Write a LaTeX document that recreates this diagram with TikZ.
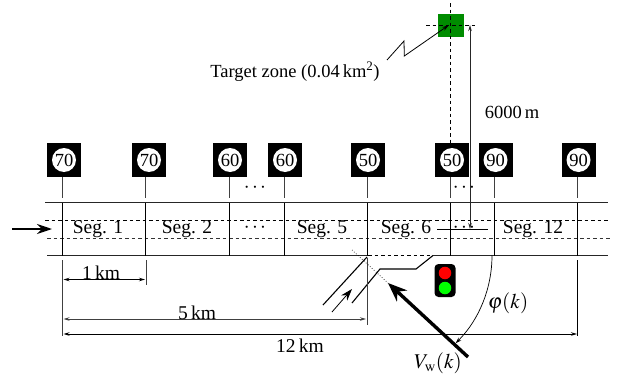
\documentclass[tikz,border=0pt]{standalone}
\usepackage{mathptmx}
\usepackage{fontspec}
\setmainfont{Liberation Serif}
\usetikzlibrary{arrows.meta}
\DeclareMathSizes{21}{21}{14.5}{11}
\DeclareMathSizes{18.5}{18.5}{13}{10}
\definecolor{zonegreen}{RGB}{0,140,0}
\tikzset{
	dimline/.style={line width=0.9pt,{Stealth[length=6pt,width=3.5pt]}-{Stealth[length=6pt,width=3.5pt]}},
	tickline/.style={line width=0.9pt,black!75},
	roadline/.style={line width=1.4pt,black!85},
	laneline/.style={line width=0.85pt,dash pattern=on 3.5pt off 3pt},
	signbox/.style={fill=black,minimum width=34pt,minimum height=34pt,inner sep=0pt},
	signdisc/.style={circle,fill=white,minimum size=24pt,inner sep=0pt,font=\fontsize{18.5}{19}\selectfont},
	textlabel/.style={inner sep=0pt,font=\fontsize{18.5}{20}\selectfont},
	seglabel/.style={inner sep=0pt,font=\fontsize{19.5}{21}\selectfont},
	mathlabel/.style={inner sep=0pt,font=\fontsize{21}{23}\selectfont},
	lamp/.style={circle,minimum size=12.5pt,inner sep=0pt},
}
\begin{document}
\begin{tikzpicture}[x=1pt,y=-1pt]
	\useasboundingbox (0,0) rectangle (624,380);
	% road
	\coordinate (rtl) at (45,202.5); \coordinate (rtr) at (608,202.5);
	\coordinate (rbl) at (47,255.5); \coordinate (rbm) at (368,255.5);
	\coordinate (rbn) at (433,255.5); \coordinate (rbr) at (608,255.5);
	\coordinate (lal) at (45,220); \coordinate (lar) at (610,220);
	\coordinate (lbl) at (47,238); \coordinate (lbr) at (610,238);
	\draw[roadline] (rtl) -- (rtr);
	\draw[roadline] (rbl) -- (rbm);
	\draw[roadline] (rbn) -- (rbr);
	\draw[laneline] (rbm) -- (rbn);
	\draw[laneline] (lal) -- (lar);
	\draw[laneline,black!80] (lbl) -- (lbr);
	% signs and poles
	\foreach \name/\polex/\signx/\limit in {a/62.7/64/70,b/145.7/149/70,c/229/230/60,d/284/285/60,e/367/368/50,f/450/452/50,g/494/495.5/90,h/577.7/578.5/90}{
		\node[signbox] (sign\name) at (\signx,160) {};
		\node[signdisc] (disc\name) at (sign\name) {\limit};
		\coordinate (pt\name) at (\polex,177);
		\coordinate (pm\name) at (\polex,198);
		\coordinate (pn\name) at (\polex,202.5);
		\coordinate (pb\name) at (\polex,255.5);
		\draw[tickline] (pt\name) -- (pm\name);
		\draw[line width=0.9pt] (pn\name) -- (pb\name);
	}
	% segment labels
	\node[seglabel] (seg1) at (98,229) {Seg. 1};
	\node[seglabel] (seg2) at (187,229) {Seg. 2};
	\node[seglabel] (seg5) at (322,229) {Seg. 5};
	\node[seglabel] (seg6) at (406,229) {Seg. 6};
	\node[seglabel] (seg12) at (533,229) {Seg. 12};
	\node[mathlabel] (dotsa) at (255,188) {$\cdots$};
	\node[mathlabel] (dotsb) at (255,228) {$\cdots$};
	\node[mathlabel] (dotsc) at (464,188) {$\cdots$};
	\node[mathlabel] (dotsd) at (464,228) {$\cdots$};
	% inflow
	\coordinate (ina) at (12,229); \coordinate (inb) at (52,229);
	\draw[line width=1.5pt,-{Stealth[length=15pt,width=10pt]}] (ina) -- (inb);
	% target zone
	\node[fill=zonegreen,minimum width=26pt,minimum height=23pt,inner sep=0pt] (zone) at (451,25.5) {};
	\coordinate (vt) at (450.5,3); \coordinate (vb) at (450.5,143);
	\coordinate (hl) at (426,25); \coordinate (hr) at (476,25);
	\draw[laneline] (vt) -- (vb);
	\draw[laneline] (hl) -- (hr);
	\node[textlabel] (zonelabel) at (295,72) {Target zone (0.04\,km\textsuperscript{2})};
	\coordinate (za) at (387,60); \coordinate (zb) at (404,41);
	\coordinate (zc) at (404.3,56); \coordinate (zd) at (449,25);
	\draw[line width=0.8pt,-{Stealth[length=7pt,width=4pt]}] (za) -- (zb) -- (zc) -- (zd);
	% distance to the zone
	\coordinate (dt) at (470,25); \coordinate (db) at (470,229);
	\coordinate (dl) at (437,229); \coordinate (dr) at (488,229);
	\draw[line width=0.9pt,black!85,{Stealth[length=6pt,width=3.5pt]}-{Stealth[length=6pt,width=3.5pt]}] (dt) -- (db);
	\draw[line width=0.8pt] (dl) -- (dr);
	\node[textlabel] (dist) at (512,112) {6000\,m};
	% ramp
	\coordinate (ra) at (323,305); \coordinate (rb) at (367,257);
	\coordinate (rc) at (352,303); \coordinate (rd) at (380,269);
	\coordinate (re) at (416,269);
	\draw[line width=1.1pt] (ra) -- (rb);
	\draw[line width=1.1pt] (rc) -- (rd) -- (re) -- (rbn);
	\coordinate (fa) at (332,312); \coordinate (fb) at (352,289);
	\draw[line width=0.8pt,-{Stealth[length=12pt,width=8pt]}] (fa) -- (fb);
	% traffic light
	\node[fill=black,rounded corners=4pt,minimum width=21pt,minimum height=33pt,inner sep=0pt] (light) at (445,280.5) {};
	\node[lamp,fill=red] (lampr) at (445,273) {};
	\node[lamp,fill=green] (lampg) at (445,288) {};
	% dimensions
	\coordinate (ka) at (62.5,260); \coordinate (kb) at (62.5,336);
	\coordinate (kc) at (146,260); \coordinate (kd) at (146,285);
	\coordinate (ke) at (367,258); \coordinate (kf) at (367,325);
	\coordinate (kg) at (577.7,260); \coordinate (kh) at (577.7,336);
	\draw[tickline] (ka) -- (kb);
	\draw[tickline] (kc) -- (kd);
	\draw[tickline] (ke) -- (kf);
	\draw[line width=0.9pt] (kg) -- (kh);
	\coordinate (da) at (63.5,279.5); \coordinate (dbb) at (145,279.5);
	\coordinate (dc) at (63.5,319); \coordinate (dd) at (366,319);
	\coordinate (de) at (63.5,334); \coordinate (df) at (577,334);
	\draw[dimline] (da) -- (dbb);
	\draw[dimline,black!75] (dc) -- (dd);
	\draw[dimline] (de) -- (df);
	\node[seglabel] (kma) at (101,273) {1\,km};
	\node[seglabel] (kmb) at (197,313) {5\,km};
	\node[seglabel] (kmc) at (300,346) {12\,km};
	% wind
	\coordinate (wa) at (352,250); \coordinate (wb) at (388,283); \coordinate (wc) at (468,357);
	\draw[line width=0.7pt,dotted] (wa) -- (wb);
	\draw[line width=3.4pt,-{Stealth[length=19pt,width=15pt]}] (wc) -- (wb);
	\coordinate (aa) at (492,255.5);
	\draw[line width=0.7pt,-{Stealth[length=6pt,width=4pt]}] (aa) arc[start angle=0,end angle=45,radius=124];
	\node[mathlabel] (phi) at (508,303) {$\varphi(k)$};
	\node[mathlabel] (vw) at (438,363) {$V_{\mathrm{w}}(k)$};
\end{tikzpicture}
\end{document}
